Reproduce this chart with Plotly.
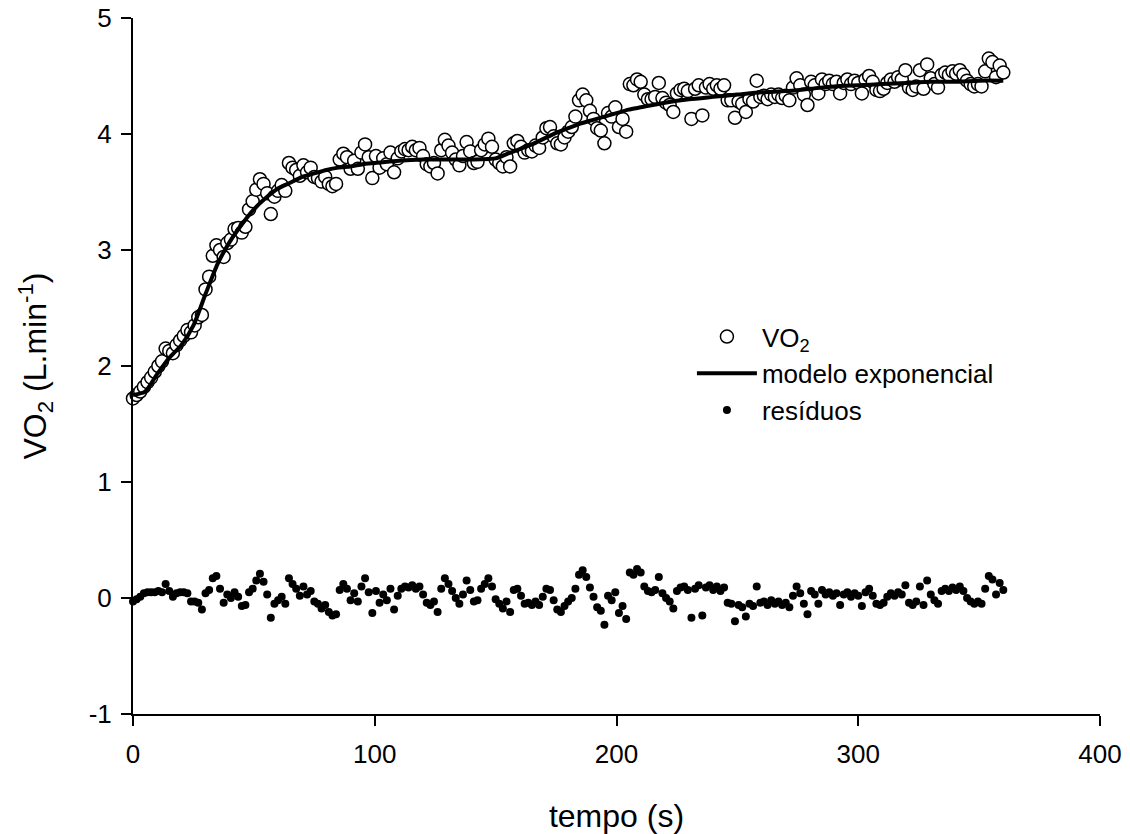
import plotly.graph_objects as go

# ---------------- data ----------------
SAMPLE_INTERVAL_S = 1.5

vo2 = [
    1.72, 1.75, 1.78, 1.82, 1.86, 1.90, 1.95, 2.00, 2.04, 2.15,
    2.13, 2.11, 2.18, 2.22, 2.26, 2.31, 2.29, 2.35, 2.42, 2.44,
    2.66, 2.77, 2.95, 3.04, 3.00, 2.94, 3.06, 3.09, 3.18, 3.19,
    3.15, 3.20, 3.35, 3.42, 3.52, 3.61, 3.57, 3.49, 3.31, 3.46,
    3.51, 3.56, 3.51, 3.75, 3.71, 3.69, 3.64, 3.73, 3.67, 3.71,
    3.63, 3.62, 3.59, 3.63, 3.57, 3.55, 3.57, 3.78, 3.83,
    3.80, 3.70, 3.77, 3.70, 3.84, 3.91, 3.80, 3.62, 3.81, 3.71,
    3.79, 3.74, 3.84, 3.67, 3.79, 3.85, 3.87, 3.86, 3.89, 3.86,
    3.88, 3.81, 3.74, 3.72, 3.75, 3.66, 3.86, 3.95, 3.90, 3.84,
    3.78, 3.73, 3.81, 3.93, 3.85, 3.75, 3.76, 3.86, 3.91, 3.96,
    3.89, 3.78, 3.75, 3.72, 3.80, 3.72, 3.92, 3.94, 3.89, 3.84,
    3.86, 3.85, 3.90, 3.88, 3.97, 4.05, 4.06, 3.98, 3.92, 3.91,
    3.97,
    4.02, 4.06, 4.15, 4.29, 4.34, 4.29, 4.20, 4.13, 4.05, 4.03,
    3.92, 4.18, 4.15, 4.23, 4.06, 4.13, 4.02, 4.43, 4.42, 4.47,
    4.45, 4.34, 4.30, 4.30, 4.32, 4.44, 4.31, 4.27, 4.25, 4.19,
    4.35, 4.38, 4.39, 4.37, 4.13, 4.39, 4.42, 4.16, 4.40, 4.43,
    4.39, 4.42, 4.39, 4.42, 4.29, 4.29, 4.14, 4.28, 4.26, 4.19,
    4.30, 4.28, 4.46, 4.32, 4.33, 4.30, 4.34, 4.32, 4.34, 4.31,
    4.33, 4.29, 4.40, 4.48, 4.42, 4.34, 4.25, 4.45, 4.42, 4.35,
    4.47, 4.43, 4.46, 4.43, 4.45, 4.35, 4.44, 4.47, 4.43, 4.46,
    4.44, 4.35, 4.47, 4.50, 4.45, 4.38, 4.37, 4.39, 4.44, 4.47,
    4.45, 4.49, 4.47, 4.55, 4.40, 4.38, 4.41, 4.55, 4.39, 4.60,
    4.48, 4.43, 4.40, 4.51, 4.53, 4.51, 4.54, 4.52, 4.55, 4.51,
    4.46, 4.43, 4.41, 4.43, 4.41, 4.54, 4.65, 4.62, 4.49, 4.59,
    4.53,
]

residuals = [
    -0.03, -0.01, 0.01, 0.04, 0.05, 0.05, 0.05, 0.06, 0.05, 0.12,
    0.06, 0.01, 0.04, 0.05, 0.05, 0.04, -0.03, -0.03, -0.04, -0.10,
    0.04, 0.07, 0.17, 0.19, 0.08, -0.04, 0.03, 0.00, 0.05, 0.01,
    -0.07, -0.06, 0.05, 0.08, 0.15, 0.21, 0.14, 0.03, -0.17, -0.05,
    -0.02, 0.01, -0.05, 0.17, 0.12, 0.08, 0.02, 0.10, 0.03, 0.06,
    -0.03, -0.05, -0.09, -0.06, -0.12, -0.15, -0.14, 0.07, 0.12,
    0.08, -0.02, 0.04, -0.03, 0.10, 0.17, 0.05, -0.13, 0.06, -0.04,
    0.03, -0.02, 0.08, -0.10, 0.02, 0.08, 0.10, 0.09, 0.11, 0.08,
    0.10, 0.03, -0.04, -0.06, -0.03, -0.12, 0.08, 0.17, 0.12, 0.06,
    0.00, -0.05, 0.03, 0.15, 0.07, -0.03, -0.02, 0.08, 0.12, 0.17,
    0.10, -0.01, -0.05, -0.09, -0.03, -0.12, 0.07, 0.08, 0.02, -0.05,
    -0.04, -0.06, -0.03, -0.06, 0.01, 0.08, 0.07, -0.02, -0.10, -0.12,
    -0.07,
    -0.03, 0.00, 0.08, 0.20, 0.24, 0.18, 0.09, 0.01, -0.08, -0.11,
    -0.23, 0.02, -0.02, 0.05, -0.13, -0.07, -0.18, 0.22, 0.20, 0.25,
    0.22, 0.10, 0.06, 0.05, 0.07, 0.18, 0.04, 0.00, -0.03, -0.09,
    0.06, 0.09, 0.10, 0.07, -0.17, 0.08, 0.11, -0.15, 0.09, 0.11,
    0.07, 0.10, 0.06, 0.09, -0.04, -0.05, -0.20, -0.06, -0.08, -0.16,
    -0.05, -0.07, 0.10, -0.04, -0.03, -0.06, -0.02, -0.05, -0.03, -0.06,
    -0.04, -0.08, 0.02, 0.10, 0.04, -0.05, -0.14, 0.06, 0.03, -0.05,
    0.07, 0.03, 0.05, 0.02, 0.04, -0.06, 0.03, 0.05, 0.01, 0.04,
    0.02, -0.07, 0.05, 0.08, 0.02, -0.05, -0.06, -0.04, 0.01, 0.04,
    0.02, 0.05, 0.03, 0.11, -0.04, -0.06, -0.03, 0.10, -0.06, 0.15,
    0.03, -0.02, -0.05, 0.06, 0.08, 0.06, 0.09, 0.07, 0.10, 0.06,
    0.00, -0.03, -0.05, -0.03, -0.05, 0.08, 0.19, 0.16, 0.03, 0.13,
    0.07,
]

time_s = [round(i * SAMPLE_INTERVAL_S, 1) for i in range(len(vo2))]

# exponential model curve, read at knots
model_time = [0, 5, 10, 15, 20, 25, 30, 35, 40, 45, 50, 55, 60, 65, 70, 75,
              80, 85, 90, 95, 100, 110, 120, 130, 140, 150, 155, 160, 165,
              170, 175, 180, 185, 190, 195, 200, 205, 210, 220, 230, 240,
              250, 260, 270, 280, 290, 300, 310, 320, 330, 340, 350, 360]
model_vo2 = [1.75, 1.78, 1.93, 2.07, 2.18, 2.35, 2.62, 2.88, 3.07, 3.22,
             3.35, 3.45, 3.53, 3.58, 3.63, 3.66, 3.69, 3.71, 3.72, 3.74,
             3.75, 3.77, 3.78, 3.78, 3.78, 3.79, 3.83, 3.87, 3.91, 3.96,
             4.01, 4.05, 4.09, 4.12, 4.15, 4.18, 4.21, 4.23, 4.27, 4.30,
             4.32, 4.34, 4.36, 4.37, 4.39, 4.41, 4.42, 4.43, 4.44, 4.45,
             4.45, 4.46, 4.46]

x_ticks = [0, 100, 200, 300, 400]
y_ticks = [-1, 0, 1, 2, 3, 4, 5]

FONT = "Liberation Sans, Arial, sans-serif"

fig = go.Figure()
fig.add_trace(go.Scatter(
    x=time_s, y=vo2, mode="markers", name="VO<sub>2</sub>",
    marker=dict(symbol="circle", size=13, color="white",
                line=dict(color="black", width=1.5)),
    cliponaxis=False,
))
fig.add_trace(go.Scatter(
    x=model_time, y=model_vo2, mode="lines", name="modelo exponencial",
    line=dict(color="black", width=4, shape="spline", smoothing=0.6),
    cliponaxis=False,
))
fig.add_trace(go.Scatter(
    x=time_s, y=residuals, mode="markers", name="resíduos",
    marker=dict(symbol="circle", size=8, color="black"),
    cliponaxis=False,
))

axis_common = dict(
    showgrid=False, zeroline=False, showline=True, linecolor="black",
    linewidth=2, ticks="outside", ticklen=10, tickwidth=2, tickcolor="black",
    tickfont=dict(family=FONT, size=26, color="black"), mirror=False,
    ticklabeloverflow="allow",
)

fig.update_xaxes(
    range=[0, 400], tickvals=x_ticks, ticktext=[str(v) for v in x_ticks],
    title=dict(text="tempo (s)", font=dict(family=FONT, size=32, color="black"),
               standoff=37),
    ticklabelstandoff=6,
    **axis_common,
)
fig.update_yaxes(
    range=[-1, 5], tickvals=y_ticks, ticktext=[str(v) for v in y_ticks],
    title=dict(text="VO<sub>2</sub> (L.min<sup>-1</sup>)",
               font=dict(family=FONT, size=32, color="black"), standoff=32),
    ticklabelstandoff=4,
    **axis_common,
)

fig.update_layout(
    width=1130, height=834,
    margin=dict(l=133, r=30, t=18, b=120, autoexpand=False),
    plot_bgcolor="white", paper_bgcolor="white",
    font=dict(family=FONT, size=26, color="black"),
    showlegend=True,
    hovermode=False,
    legend=dict(x=0.578, y=0.576, xanchor="left", yanchor="top",
                bgcolor="rgba(0,0,0,0)", borderwidth=0,
                font=dict(family=FONT, size=26, color="black"),
                itemwidth=60, tracegroupgap=0),
)

# remove the browser's default 8px page margin so the figure sits at (0, 0)
fig.write_html("out.html",
               config={"displayModeBar": False},
               post_script="document.body.style.margin='0px';")
